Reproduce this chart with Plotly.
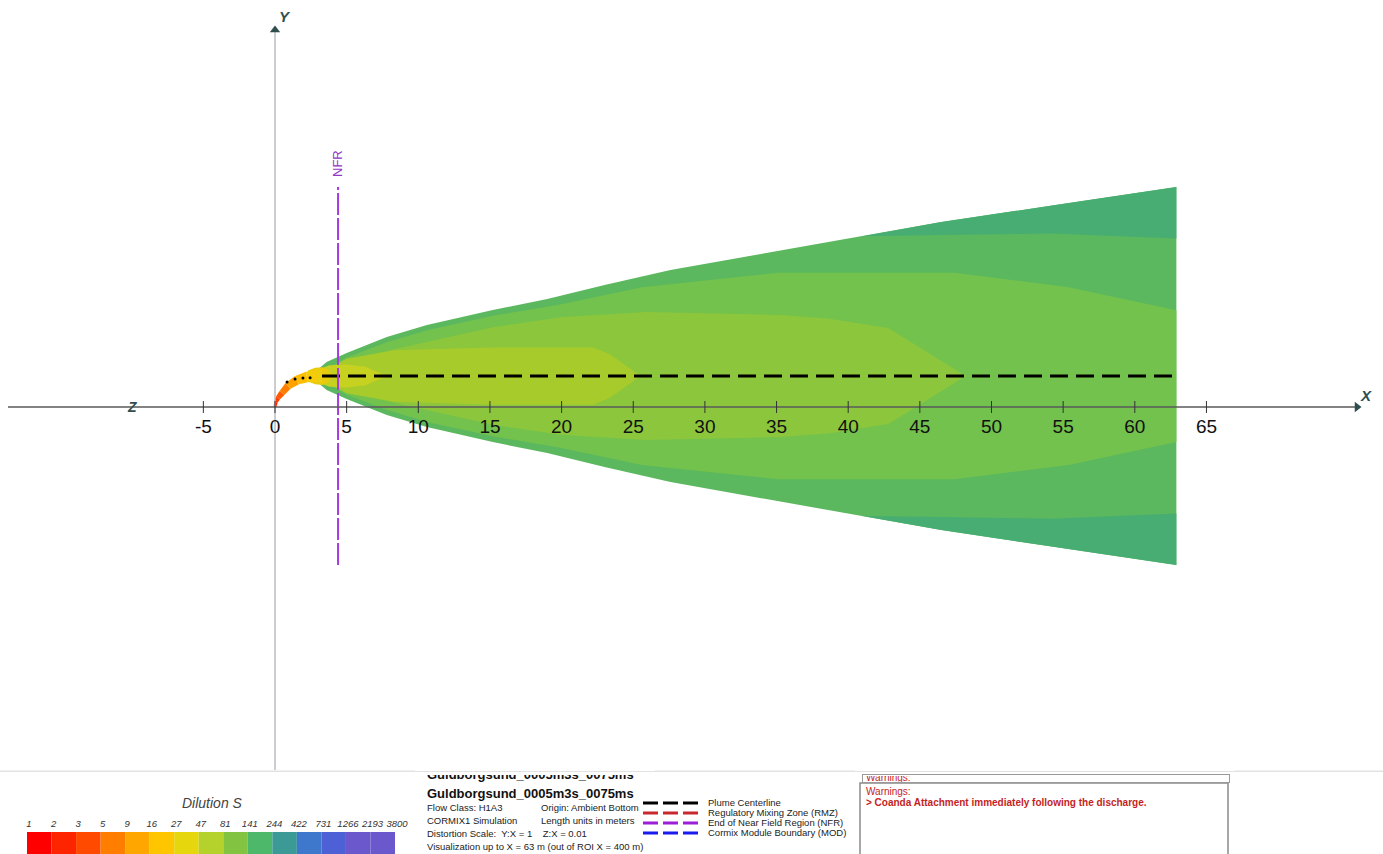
import numpy as np
import plotly.graph_objects as go

# ---------------- data ----------------
centerline_y = 2.16          # plume centerline offset (m)
plume_end_x = 62.9           # visualization limit (m)
nfr_x = 4.4                  # end of near field region (m)

# outer plume edge: downstream distance x (m) and half width (m)
outer_x = [2.8, 3.6, 5.0, 7.8, 10.6, 15.2, 19.0, 23.0, 27.6, 38.7, 46.5, 62.9]
outer_h = [0.30, 0.98, 1.60, 2.72, 3.56, 4.61, 5.37, 6.35, 7.40, 9.35, 10.75, 13.19]

# inner boundary of the outermost (dilution 244-422) band
teal_x = [41.0, 46.5, 54.2, 62.9]
teal_h = [9.76, 9.84, 9.95, 9.60]

# inner dilution zones (x, half width)
zone3_x = [3.2, 5.0, 7.8, 10.6, 15.2, 19.9, 25.6, 35.1, 47.4, 55.4, 62.9]
zone3_h = [0.25, 1.30, 2.35, 3.20, 4.20, 5.00, 6.20, 7.20, 7.20, 6.20, 4.60]
zone4_x = [3.4, 5.0, 8.7, 15.2, 19.9, 25.9, 35.3, 38.7, 42.8, 43.6, 48.2]
zone4_h = [0.25, 1.05, 1.95, 3.40, 4.10, 4.47, 4.26, 4.00, 3.35, 2.86, 0.0]
zone5_x = [3.6, 5.0, 8.3, 15.2, 22.2, 23.4, 25.5]
zone5_h = [0.45, 1.20, 1.80, 2.00, 2.00, 1.50, 0.0]
zone6_x = [3.0, 3.8, 5.0, 6.3, 7.8]
zone6_h = [0.45, 0.75, 0.80, 0.65, 0.0]
head_x = [2.3, 2.8, 3.3, 3.7, 4.0]
head_h = [0.38, 0.58, 0.62, 0.45, 0.0]

zone_colors = {
    "teal": "#47AD72",
    "z2": "#5BB85E",
    "z3": "#72C24D",
    "z4": "#8CC63C",
    "z5": "#A8CB2C",
    "z6": "#C6D120",
    "head": "#E9CB0E",
}

# near-field jet trajectory (x, y, half width) and segment colours
jet_x = [0.0, 0.07, 0.21, 0.49, 0.91, 1.54, 2.23, 2.93, 3.28]
jet_y = [0.0, 0.35, 0.63, 0.98, 1.47, 1.88, 2.09, 2.16, 2.16]
jet_hw = [0.09, 0.13, 0.17, 0.22, 0.27, 0.32, 0.37, 0.41, 0.43]
jet_colors = ["#FF2A00", "#FF4000", "#FF5A00", "#FF7E00", "#FFA200", "#FFBE00", "#F5CC08", "#ECCF0E"]
jet_dots_x = [0.84, 1.40, 1.95, 2.45]
jet_dots_y = [1.74, 1.95, 2.02, 2.04]

tick_vals = [-5, 0, 5, 10, 15, 20, 25, 30, 35, 40, 45, 50, 55, 60, 65]

cb_labels = ["1", "2", "3", "5", "9", "16", "27", "47", "81", "141", "244", "422", "731", "1266", "2193", "3800"]
cb_colors = ["#FF0000", "#FF2400", "#FF4A00", "#FF7E00", "#FFA600", "#FFC600", "#E6D60E",
             "#B4D12C", "#82C342", "#4DB86A", "#3B9A96", "#3E78CC", "#4E60D6", "#6A58CC", "#6A58CC"]

leg_labels = ["Plume Centerline", "Regulatory Mixing Zone (RMZ)",
              "End of Near Field Region (NFR)", "Cormix Module Boundary (MOD)"]
leg_colors = ["#000000", "#C8282D", "#9B1FD6", "#1A1AF0"]

case_title = "Guldborgsund_0005m3s_0075ms"
info_left = ["Flow Class: H1A3", "CORMIX1 Simulation", "Distortion Scale:  Y:X = 1    Z:X = 0.01",
             "Visualization up to X = 63 m (out of ROI X = 400 m)"]
info_right = ["Origin: Ambient Bottom", "Length units in meters", "", ""]
warn_title = "Warnings:"
warn_text = "> Coanda Attachment immediately following the discharge."

# ---------------- layout geometry ----------------
W, H = 1383, 854
panel_h = 84
scale = 14.33                     # px per metre (Y:X = 1)
x0_px, y0_px = 275, 407           # origin location in the plot area
plot_h = H - panel_h
xr = [-x0_px / scale, (W - x0_px) / scale]
yr = [-(plot_h - y0_px) / scale, y0_px / scale]

fig = go.Figure()


def add_poly(px, py, color, xa="x", ya="y"):
    fig.add_trace(go.Scatter(x=list(px), y=list(py), mode="lines", fill="toself",
                             fillcolor=color, line=dict(width=0, color=color),
                             hoverinfo="skip", showlegend=False, xaxis=xa, yaxis=ya))


def band(xs, hs, yc):
    xs = np.asarray(xs, float)
    hs = np.asarray(hs, float)
    return (np.concatenate([xs, xs[::-1]]),
            np.concatenate([yc + hs, (yc - hs)[::-1]]))


def pyp(py):
    """pixel row -> paper y"""
    return 1 - py / H


yc = centerline_y
# full plume
add_poly(*band(outer_x, outer_h, yc), zone_colors["z2"])
# outermost teal bands (upper and lower)
tx = np.asarray(teal_x)
oh = np.interp(tx, outer_x, outer_h)
th = np.asarray(teal_h)
add_poly(np.concatenate([tx, tx[::-1]]), np.concatenate([yc + oh, (yc + th)[::-1]]), zone_colors["teal"])
add_poly(np.concatenate([tx, tx[::-1]]), np.concatenate([yc - oh, (yc - th)[::-1]]), zone_colors["teal"])
# inner zones
add_poly(*band(zone3_x, zone3_h, yc), zone_colors["z3"])
add_poly(*band(zone4_x, zone4_h, yc), zone_colors["z4"])
add_poly(*band(zone5_x, zone5_h, yc), zone_colors["z5"])
add_poly(*band(zone6_x, zone6_h, yc), zone_colors["z6"])
add_poly(*band(head_x, head_h, yc), zone_colors["head"])

# jet band
jx = np.asarray(jet_x)
jy = np.asarray(jet_y)
jh = np.asarray(jet_hw)
tx_ = np.gradient(jx)
ty_ = np.gradient(jy)
nrm = np.hypot(tx_, ty_)
nx, ny = -ty_ / nrm, tx_ / nrm
lx, ly = jx + nx * jh, jy + ny * jh
rx, ry = jx - nx * jh, jy - ny * jh
for i, c in enumerate(jet_colors):
    add_poly([lx[i], lx[i + 1], rx[i + 1], rx[i]], [ly[i], ly[i + 1], ry[i + 1], ry[i]], c)

fig.add_trace(go.Scatter(x=jet_dots_x, y=jet_dots_y, mode="markers",
                         marker=dict(size=3, color="black"), hoverinfo="skip", showlegend=False))

# centerline
fig.add_trace(go.Scatter(x=[jet_x[-1], plume_end_x], y=[yc, yc], mode="lines",
                         line=dict(color="black", width=3, dash="18px,8px"),
                         hoverinfo="skip", showlegend=False))

# NFR line
nfr_h = np.interp(plume_end_x, outer_x, outer_h)
fig.add_trace(go.Scatter(x=[nfr_x, nfr_x], y=[yc - nfr_h, yc + nfr_h], mode="lines",
                         line=dict(color="#A63BE0", width=2, dash="22px,3px"),
                         hoverinfo="skip", showlegend=False))

# axes lines
fig.add_trace(go.Scatter(x=[0, 0], y=[yr[0], (y0_px - 31) / scale], mode="lines",
                         line=dict(color="#B8BEC6", width=1.5), hoverinfo="skip", showlegend=False))
fig.add_trace(go.Scatter(x=[(8 - x0_px) / scale, (1356 - x0_px) / scale], y=[0, 0], mode="lines",
                         line=dict(color="#5A5A5A", width=1.3), hoverinfo="skip", showlegend=False))
fig.add_trace(go.Scatter(x=[0], y=[(y0_px - 30) / scale], mode="markers",
                         marker=dict(symbol="triangle-up", size=9, color="#2F4F4F"),
                         hoverinfo="skip", showlegend=False))
fig.add_trace(go.Scatter(x=[(1357 - x0_px) / scale], y=[0], mode="markers",
                         marker=dict(symbol="triangle-right", size=9, color="#2F4F4F"),
                         hoverinfo="skip", showlegend=False))

# ticks
tkx, tky = [], []
for t in tick_vals:
    tkx += [t, t, None]
    tky += [6 / scale, -6 / scale, None]
fig.add_trace(go.Scatter(x=tkx, y=tky, mode="lines", line=dict(color="#333333", width=1),
                         hoverinfo="skip", showlegend=False))
fig.add_trace(go.Scatter(x=tick_vals, y=[-21 / scale] * len(tick_vals), mode="text",
                         text=[str(t) for t in tick_vals],
                         textfont=dict(family="Liberation Sans, Arial", size=19, color="#111111"),
                         hoverinfo="skip", showlegend=False))

annots = []
axlab_font = dict(family="Liberation Sans, Arial", size=15, color="#2F4F4F")
annots.append(dict(x=(285 - x0_px) / scale, y=(y0_px - 16) / scale, text="<b><i>Y</i></b>",
                   showarrow=False, font=axlab_font, xref="x", yref="y"))
annots.append(dict(x=(1366 - x0_px) / scale, y=(y0_px - 395) / scale, text="<b><i>X</i></b>",
                   showarrow=False, font=axlab_font, xref="x", yref="y"))
annots.append(dict(x=(132 - x0_px) / scale, y=0, text="<b><i>Z</i></b>",
                   showarrow=False, font=dict(family="Liberation Sans, Arial", size=14, color="#2F4F4F"),
                   xref="x", yref="y"))
annots.append(dict(x=(337 - x0_px) / scale, y=(y0_px - 164) / scale, text="NFR", textangle=-90,
                   showarrow=False, font=dict(family="Liberation Sans, Arial", size=13, color="#9434C8"),
                   xref="x", yref="y"))

# ---------------- bottom panel (pixel coordinates on x2/y2) ----------------
shapes = []
shapes.append(dict(type="line", xref="paper", yref="paper", x0=0, x1=1, y0=pyp(771), y1=pyp(771),
                   line=dict(color="#E2E2E2", width=1), layer="above"))
# colorbar
n = len(cb_colors)
cb_left, cb_right = 27, 395
step = (cb_right - cb_left) / n
for i, c in enumerate(cb_colors):
    shapes.append(dict(type="rect", xref="x2", yref="y2", x0=cb_left + i * step, x1=cb_left + (i + 1) * step,
                       y0=832, y1=860, fillcolor=c, line=dict(width=0), layer="below"))
fig.add_trace(go.Scatter(x=[cb_left + i * step + 2 for i in range(len(cb_labels))], y=[825] * len(cb_labels),
                         mode="text", text=[f"<i>{l}</i>" for l in cb_labels],
                         textfont=dict(family="Liberation Sans, Arial", size=9.5, color="#333333"),
                         xaxis="x2", yaxis="y2", hoverinfo="skip", showlegend=False))
annots.append(dict(x=212, y=803, xref="x2", yref="y2", text="<i>Dilution S</i>", showarrow=False,
                   font=dict(family="Liberation Sans, Arial", size=14, color="#444444")))

# ghost (scrolled) texts, partly hidden by white mask annotations drawn after them
annots.append(dict(x=425 / W, y=pyp(774), xref="paper", yref="paper", text=f"<b>{case_title}</b>",
                   showarrow=False, xanchor="left", yanchor="middle",
                   font=dict(family="Liberation Sans, Arial", size=13, color="#111111")))
annots.append(dict(x=864 / W, y=pyp(777), xref="paper", yref="paper", text=warn_title,
                   showarrow=False, xanchor="left", yanchor="middle",
                   font=dict(family="Liberation Sans, Arial", size=10, color="#C41E1E")))
annots.append(dict(x=415 / W, y=pyp(755), xref="paper", yref="paper", text=" ", showarrow=False,
                   xanchor="left", yanchor="top", width=240, height=20, bgcolor="white",
                   borderpad=0, borderwidth=0, font=dict(size=6)))
annots.append(dict(x=855 / W, y=pyp(755), xref="paper", yref="paper", text=" ", showarrow=False,
                   xanchor="left", yanchor="top", width=380, height=21, bgcolor="white",
                   borderpad=0, borderwidth=0, font=dict(size=6)))
# separator line and ghost warnings box outline (drawn after the masks)
annots.append(dict(x=0, y=pyp(770.5), xref="paper", yref="paper", text=" ", showarrow=False,
                   xanchor="left", yanchor="top", width=W, height=1, bgcolor="#E2E2E2",
                   borderpad=0, borderwidth=0, font=dict(size=1)))
annots.append(dict(x=862 / W, y=pyp(774), xref="paper", yref="paper", text=" ", showarrow=False,
                   xanchor="left", yanchor="top", width=366, height=7, bgcolor="rgba(0,0,0,0)",
                   bordercolor="#9A9A9A", borderwidth=1, borderpad=0, font=dict(size=6)))

annots.append(dict(x=425, y=793, xref="x2", yref="y2", text=f"<b>{case_title}</b>", showarrow=False,
                   xanchor="left", font=dict(family="Liberation Sans, Arial", size=13, color="#111111")))
info_y = [807, 820, 833, 846]
for yy, tl, tr in zip(info_y, info_left, info_right):
    annots.append(dict(x=425, y=yy, xref="x2", yref="y2", text=tl, showarrow=False, xanchor="left",
                       font=dict(family="Liberation Sans, Arial", size=9.5, color="#222222")))
    if tr:
        annots.append(dict(x=539, y=yy, xref="x2", yref="y2", text=tr, showarrow=False, xanchor="left",
                           font=dict(family="Liberation Sans, Arial", size=9.5, color="#222222")))

# legend lines
leg_y = [803, 813, 823, 833]
for yy, lab, col in zip(leg_y, leg_labels, leg_colors):
    fig.add_trace(go.Scatter(x=[643, 698], y=[yy, yy], mode="lines",
                             line=dict(color=col, width=3, dash="15px,5px"),
                             xaxis="x2", yaxis="y2", hoverinfo="skip", showlegend=False))
    annots.append(dict(x=706, y=yy - 1, xref="x2", yref="y2", text=lab, showarrow=False, xanchor="left",
                       font=dict(family="Liberation Sans, Arial", size=9.5, color="#222222")))

# warnings box
shapes.append(dict(type="rect", xref="x2", yref="y2", x0=860, x1=1228, y0=783, y1=870,
                   line=dict(color="#8A8A8A", width=1.5), fillcolor="white", layer="below"))
annots.append(dict(x=864, y=791, xref="x2", yref="y2", text=warn_title, showarrow=False, xanchor="left",
                   font=dict(family="Liberation Sans, Arial", size=10, color="#C41E1E")))
annots.append(dict(x=864, y=802, xref="x2", yref="y2", text=f"<b>{warn_text}</b>", showarrow=False,
                   xanchor="left", font=dict(family="Liberation Sans, Arial", size=10, color="#C41E1E")))

fig.update_layout(
    width=W, height=H,
    margin=dict(l=0, r=0, t=0, b=0),
    paper_bgcolor="white", plot_bgcolor="rgba(0,0,0,0)",
    showlegend=False,
    xaxis=dict(range=xr, domain=[0, 1], visible=False, fixedrange=True),
    yaxis=dict(range=yr, domain=[panel_h / H, 1], visible=False, fixedrange=True),
    xaxis2=dict(range=[0, W], domain=[0, 1], visible=False, anchor="y2", fixedrange=True),
    yaxis2=dict(range=[H, plot_h], domain=[0, panel_h / H], visible=False, anchor="x2", fixedrange=True),
    shapes=shapes,
    annotations=annots,
)

fig.write_html("out.html", config={"displayModeBar": False},
               post_script="document.body.style.margin='0px';")
